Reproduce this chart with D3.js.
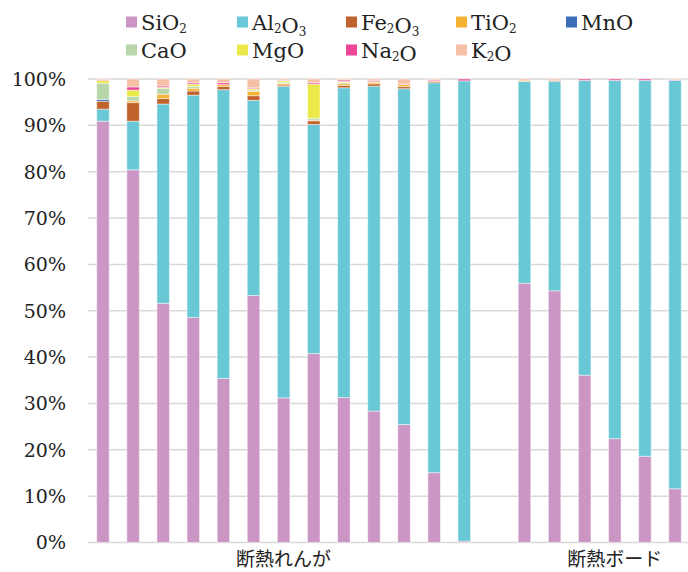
<!DOCTYPE html>
<html><head><meta charset="utf-8">
<script src="https://cdn.jsdelivr.net/npm/d3@7"></script>
<style>body{margin:0;background:#fff;}</style>
</head><body>
<svg id="c" width="688" height="572"></svg>
<script>
const ids = d3.range(20).map(i => "c" + i);
const catLabels = ["", "", "", "", "", "", "断熱れんが", "", "", "", "", "", "", "", "", "", "", "断熱ボード", "", ""];
const seriesNames = ["SiO2", "Al2O3", "Fe2O3", "TiO2", "MnO", "CaO", "MgO", "Na2O", "K2O"];
const colors = ["#cb96c4", "#68c8d5", "#c0622c", "#f6b333", "#3c6eb8", "#b7d7aa", "#ebe94a", "#ee4798", "#f5c0a5"];
const SiO2  = [90.9, 80.4, 51.6, 48.8, 35.4, 53.3, 31.3, 40.9, 31.4, 28.4, 25.5, 15.1, 0.3, 0, 56.0, 54.3, 36.1, 22.4, 18.6, 11.6];
const Al2O3 = [2.6, 10.5, 43.0, 48.2, 62.3, 42.1, 67.4, 49.6, 67.1, 70.2, 72.6, 84.3, 99.3, 0, 43.6, 45.2, 63.6, 77.3, 81.1, 88.1];
const Fe2O3 = [1.7, 4.0, 1.2, 0.9, 0.7, 1.0, 0.3, 0.8, 0.5, 0.5, 0.45, 0.3, 0, 0, 0, 0.2, 0, 0, 0, 0];
const TiO2  = [0, 0.4, 0.9, 0.6, 0.4, 0.9, 0.3, 0.15, 0.4, 0.35, 0.45, 0.1, 0, 0, 0.1, 0, 0, 0, 0, 0];
const MnO   = [0.4, 0, 0, 0, 0, 0, 0, 0, 0, 0, 0, 0, 0, 0, 0, 0, 0, 0, 0, 0];
const CaO   = [3.5, 0.9, 1.3, 0.4, 0, 0.3, 0.3, 0.4, 0.3, 0, 0, 0, 0, 0, 0, 0, 0, 0, 0, 0];
const MgO   = [0.6, 1.4, 0.2, 0.5, 0, 0.3, 0.3, 7.4, 0.2, 0.1, 0, 0, 0, 0, 0, 0, 0, 0, 0, 0];
const Na2O  = [0.15, 0.7, 0.3, 0.3, 0.4, 0.2, 0.1, 0.3, 0.3, 0.2, 0.1, 0.2, 0.4, 0, 0, 0, 0.3, 0.3, 0.3, 0.1];
const K2O   = [0.15, 1.7, 1.5, 0.8, 0.8, 1.9, 0.3, 0.8, 0.2, 0.4, 1.1, 0.2, 0, 0, 0.4, 0.3, 0, 0, 0, 0.2];
const yTicks = [0, 0.1, 0.2, 0.3, 0.4, 0.5, 0.6, 0.7, 0.8, 0.9, 1.0];

const seriesArr = [SiO2, Al2O3, Fe2O3, TiO2, MnO, CaO, MgO, Na2O, K2O];
const rows = ids.map((id, i) => {
  const r = {id};
  seriesNames.forEach((s, k) => r[s] = seriesArr[k][i]);
  return r;
});

const serif = "'DejaVu Serif', 'Liberation Serif', serif";
const svg = d3.select("#c");
const plotL = 88, plotR = 690, plotT = 79, plotB = 542.5;
const x = d3.scaleBand().domain(ids).range([plotL, plotR]).paddingInner(0.585).paddingOuter(0.29);
const y = d3.scaleLinear().domain([0, 1]).range([plotB, plotT]);
const color = d3.scaleOrdinal().domain(seriesNames).range(colors);

// grid
svg.append("g").selectAll("line").data(yTicks).join("line")
  .attr("x1", plotL).attr("x2", 688)
  .attr("y1", d => y(d)).attr("y2", d => y(d))
  .attr("stroke", "#d9d9d9").attr("stroke-width", 1.5);

// y labels
svg.append("g").selectAll("text").data(yTicks).join("text")
  .attr("x", 66).attr("y", d => y(d)).attr("dy", "0.36em")
  .attr("text-anchor", "end")
  .attr("font-family", serif)
  .attr("font-size", 19).attr("fill", "#222")
  .text(d => d3.format(".0%")(d));

const stack = d3.stack().keys(seriesNames).offset(d3.stackOffsetExpand);
const layers = stack(rows);

svg.append("g").selectAll("g").data(layers).join("g")
  .attr("fill", d => color(d.key))
  .selectAll("rect").data(d => d.filter(p => isFinite(p[0]) && isFinite(p[1]) && p[1] > p[0]))
  .join("rect")
  .attr("x", d => x(d.data.id))
  .attr("width", x.bandwidth())
  .attr("y", d => y(d[1]))
  .attr("height", d => y(d[0]) - y(d[1]))
  .attr("stroke", "#ffffff").attr("stroke-opacity", 0.45).attr("stroke-width", 1);

// category labels
svg.append("g").selectAll("text").data(ids.filter((id, i) => catLabels[i] !== "")).join("text")
  .attr("x", d => x(d) + x.bandwidth() / 2)
  .attr("y", 559).attr("dy", "0.35em")
  .attr("text-anchor", "middle")
  .attr("font-family", "'Noto Sans CJK JP', sans-serif")
  .attr("font-size", 19).attr("fill", "#222")
  .text(d => catLabels[ids.indexOf(d)]);

// legend
const legendPos = [
  [126, 22], [237, 22], [346, 22], [456, 22], [566, 22],
  [126, 50], [237, 50], [346, 50], [456, 50]
];
const lg = svg.append("g").selectAll("g").data(seriesNames).join("g")
  .attr("transform", (d, i) => `translate(${legendPos[i][0]},${legendPos[i][1]})`);
lg.append("rect").attr("x", 0).attr("y", -5.5).attr("width", 11).attr("height", 11)
  .attr("fill", d => color(d));
lg.each(function(name) {
  const t = d3.select(this).append("text")
    .attr("x", 15).attr("y", 0).attr("dy", "0.36em")
    .attr("font-family", serif)
    .attr("font-size", 21).attr("fill", "#222");
  const parts = name.match(/[A-Za-z]+|\d+/g);
  parts.forEach(p => {
    if (/^\d+$/.test(p)) {
      t.append("tspan").attr("font-size", 12).attr("dy", 3).text(p);
      t.append("tspan").attr("dy", -3).text("");
    } else {
      t.append("tspan").text(p);
    }
  });
});
</script>
</body></html>
